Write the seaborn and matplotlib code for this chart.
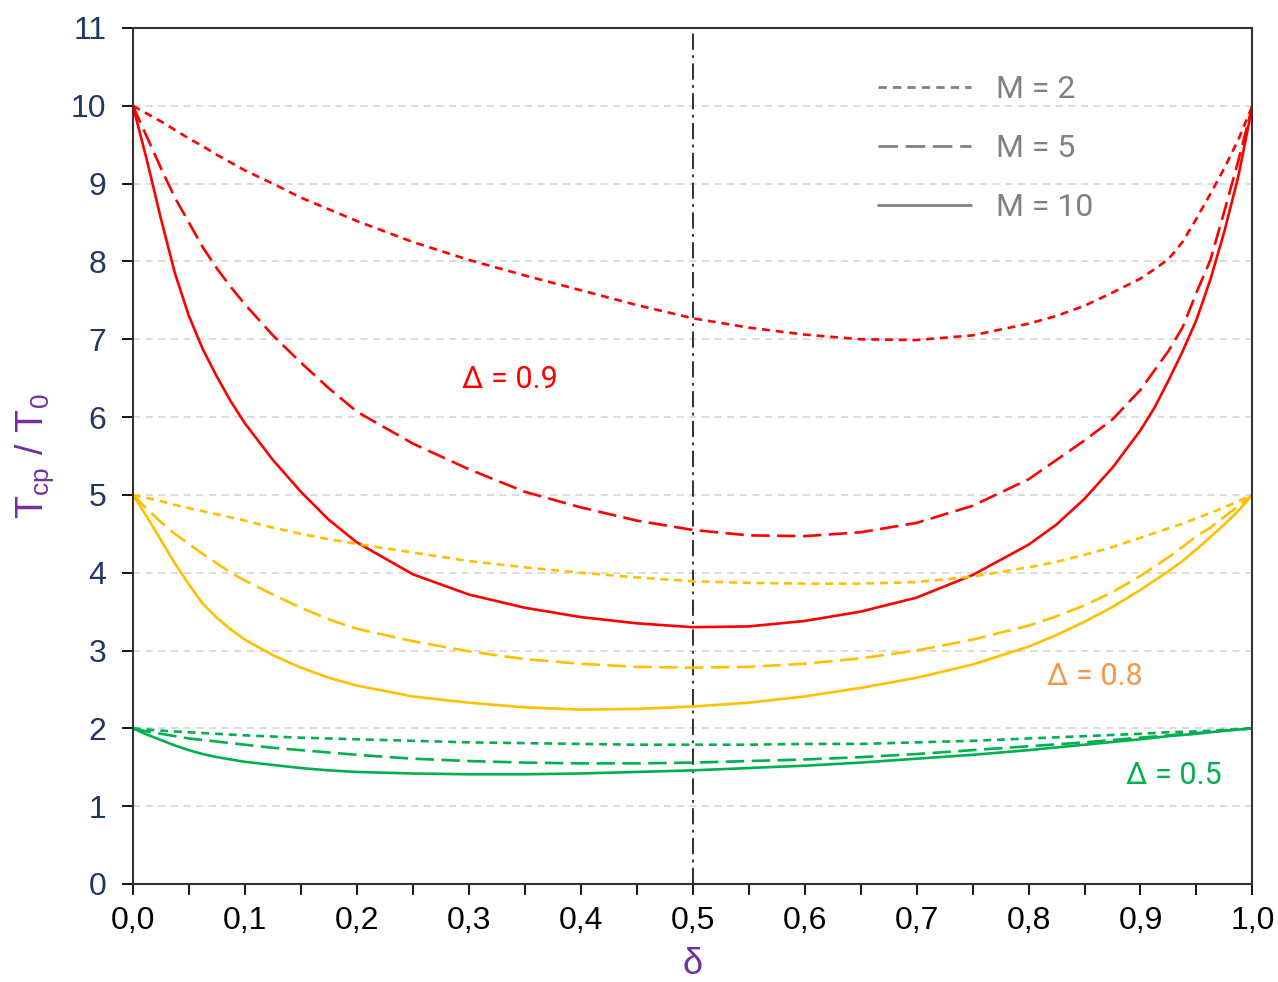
import matplotlib
matplotlib.use("Agg")
import matplotlib.pyplot as plt
from matplotlib.lines import Line2D
from matplotlib.ticker import MultipleLocator
import pandas as pd
import seaborn as sns

# delta positions along the x axis (denser near the ends where the curves are steep)
delta = [0, 0.0125, 0.025, 0.0375, 0.05, 0.0625, 0.075, 0.0875, 0.1, 0.125, 0.15, 0.175,
         0.2, 0.25, 0.3, 0.35, 0.4, 0.45, 0.5, 0.55, 0.6, 0.65, 0.7, 0.75, 0.8, 0.825,
         0.85, 0.875, 0.9, 0.9125, 0.925, 0.9375, 0.95, 0.9625, 0.975, 0.9875, 1.0]

# Delta = 0.9 (red)
red_m2 = [10, 9.9, 9.8, 9.69, 9.58, 9.48, 9.37, 9.27, 9.17, 9.0, 8.82, 8.67,
          8.52, 8.25, 8.02, 7.82, 7.63, 7.44, 7.27, 7.15, 7.06, 7.0, 6.99, 7.05, 7.2, 7.3,
          7.43, 7.6, 7.78, 7.9, 8.03, 8.25, 8.55, 8.87, 9.2, 9.57, 10]
red_m5 = [10, 9.6, 9.2, 8.82, 8.5, 8.18, 7.91, 7.67, 7.45, 7.05, 6.7, 6.37,
          6.07, 5.66, 5.33, 5.04, 4.84, 4.67, 4.55, 4.48, 4.47, 4.52, 4.64, 4.86, 5.2, 5.45,
          5.7, 5.97, 6.35, 6.6, 6.85, 7.15, 7.6, 8.02, 8.65, 9.3, 10]
red_m10 = [10, 9.3, 8.55, 7.85, 7.3, 6.87, 6.52, 6.2, 5.92, 5.45, 5.04, 4.68,
           4.39, 3.98, 3.72, 3.55, 3.43, 3.35, 3.30, 3.31, 3.38, 3.50, 3.68, 3.97, 4.36, 4.62,
           4.95, 5.35, 5.83, 6.12, 6.47, 6.84, 7.25, 7.77, 8.39, 9.1, 10]

# Delta = 0.8 (yellow)
yel_m2 = [5, 4.96, 4.92, 4.87, 4.83, 4.79, 4.75, 4.71, 4.67, 4.58, 4.5, 4.43,
          4.37, 4.26, 4.15, 4.07, 4.0, 3.94, 3.89, 3.87, 3.86, 3.86, 3.88, 3.95, 4.07, 4.14,
          4.23, 4.33, 4.45, 4.51, 4.57, 4.63, 4.7, 4.77, 4.84, 4.92, 5]
yel_m5 = [5, 4.82, 4.65, 4.5, 4.37, 4.24, 4.12, 4.0, 3.9, 3.72, 3.55, 3.4,
          3.28, 3.12, 2.99, 2.89, 2.83, 2.79, 2.78, 2.79, 2.83, 2.9, 3.0, 3.14, 3.32, 3.44,
          3.58, 3.75, 3.96, 4.08, 4.2, 4.33, 4.47, 4.58, 4.72, 4.86, 5]
yel_m10 = [5, 4.72, 4.42, 4.12, 3.85, 3.6, 3.42, 3.27, 3.14, 2.94, 2.78, 2.65,
           2.55, 2.41, 2.33, 2.27, 2.24, 2.25, 2.28, 2.33, 2.41, 2.52, 2.65, 2.82, 3.05, 3.2,
           3.37, 3.56, 3.78, 3.9, 4.02, 4.15, 4.3, 4.46, 4.62, 4.8, 5]

# Delta = 0.5 (green)
grn_m2 = [2, 1.985, 1.97, 1.96, 1.95, 1.94, 1.93, 1.92, 1.91, 1.895, 1.88, 1.87,
          1.86, 1.84, 1.82, 1.81, 1.8, 1.79, 1.79, 1.79, 1.8, 1.8, 1.82, 1.84, 1.87, 1.885,
          1.9, 1.915, 1.93, 1.94, 1.95, 1.955, 1.96, 1.97, 1.98, 1.99, 2]
grn_m5 = [2, 1.96, 1.93, 1.9, 1.87, 1.85, 1.83, 1.81, 1.79, 1.75, 1.72, 1.69,
          1.66, 1.61, 1.58, 1.56, 1.55, 1.55, 1.56, 1.58, 1.6, 1.63, 1.67, 1.72, 1.77, 1.795,
          1.82, 1.85, 1.88, 1.895, 1.91, 1.925, 1.94, 1.955, 1.97, 1.985, 2]
grn_m10 = [2, 1.92, 1.85, 1.78, 1.72, 1.67, 1.63, 1.6, 1.57, 1.53, 1.49, 1.46,
           1.44, 1.42, 1.41, 1.41, 1.42, 1.44, 1.46, 1.49, 1.52, 1.56, 1.61, 1.66, 1.72, 1.755,
           1.79, 1.825, 1.86, 1.88, 1.9, 1.915, 1.93, 1.95, 1.97, 1.985, 2]

x_ticks = [0, 0.1, 0.2, 0.3, 0.4, 0.5, 0.6, 0.7, 0.8, 0.9, 1.0]
x_tick_labels = ["0,0", "0,1", "0,2", "0,3", "0,4", "0,5", "0,6", "0,7", "0,8", "0,9", "1,0"]
y_ticks = list(range(0, 12))
m_labels = ["M = 2", "M = 5", "M = 10"]

series = {
    ("0.9", "M = 2"): red_m2, ("0.9", "M = 5"): red_m5, ("0.9", "M = 10"): red_m10,
    ("0.8", "M = 2"): yel_m2, ("0.8", "M = 5"): yel_m5, ("0.8", "M = 10"): yel_m10,
    ("0.5", "M = 2"): grn_m2, ("0.5", "M = 5"): grn_m5, ("0.5", "M = 10"): grn_m10,
}
rows = []
for (D, M), vals in series.items():
    for d, t in zip(delta, vals):
        rows.append({"delta": d, "T": t, "Delta": D, "M": M})
df = pd.DataFrame(rows)

sns.set_style("white")
plt.rcParams["font.family"] = ["Liberation Sans", "DejaVu Sans"]
plt.rcParams["mathtext.fontset"] = "custom"
plt.rcParams["mathtext.rm"] = "Liberation Sans"

palette = {"0.9": "#FF0000", "0.8": "#FFC000", "0.5": "#00B050"}
dash_map = {"M = 2": (3, 2.2), "M = 5": (7, 2.8), "M = 10": ""}

fig = plt.figure(figsize=(12.78, 9.82), dpi=100)
ax = fig.add_axes([0.104, 0.0998, 0.876, 0.8717])

# grid lines
for yv in range(1, 11):
    ax.axhline(yv, color="#D9D9D9", lw=1.3, dashes=(4, 3), zorder=0)

sns.lineplot(data=df, x="delta", y="T", hue="Delta", style="M", palette=palette,
             dashes=dash_map, linewidth=1.9, legend=False, ax=ax, sort=False)

ax.axvline(0.5, color="#222222", lw=1.3, dashes=(9, 3, 1.5, 3), zorder=1)

ax.set_xlim(0, 1)
ax.set_ylim(0, 11)
ax.set_xticks(x_ticks)
ax.set_xticklabels(x_tick_labels)
ax.xaxis.set_minor_locator(MultipleLocator(0.05))
ax.set_yticks(y_ticks)

ax.tick_params(axis="x", which="both", direction="out", length=8, width=1.3,
               labelsize=23, colors="black", pad=8, top=False, bottom=True)
ax.tick_params(axis="y", direction="out", length=8, width=1.3, labelsize=23,
               labelcolor="#1F3864", color="black", left=True, right=False, pad=11)

for s in ax.spines.values():
    s.set_color("#333333")
    s.set_linewidth(1.5)

ax.set_xlabel("δ", fontsize=26, color="#7030A0")
ax.set_ylabel(r"$\mathregular{T_{cp}\ /\ T_0}$", fontsize=27, color="#7030A0")
ax.xaxis.label.set_va("center")
ax.yaxis.label.set_va("center")
ax.xaxis.set_label_coords(0.5, -0.094)
ax.yaxis.set_label_coords(-0.0875, 0.5)

ax.text(0.337, 6.48, "Δ = 0.9", color="#FF0000", fontsize=22, family="Roboto",
        ha="center", va="center")
ax.text(0.859, 2.67, "Δ = 0.8", color="#F79646", fontsize=22, family="Roboto",
        ha="center", va="center")
ax.text(0.93, 1.40, "Δ = 0.5", color="#00B050", fontsize=22, family="Roboto",
        ha="center", va="center")

handles = [Line2D([], [], color="#808080", lw=2, dashes=dash_map["M = 2"]),
           Line2D([], [], color="#808080", lw=2, dashes=dash_map["M = 5"]),
           Line2D([], [], color="#808080", lw=2)]
leg = ax.legend(handles, m_labels, loc="upper left", bbox_to_anchor=(0.64, 0.979),
                frameon=False, handlelength=2.9, handletextpad=0.78, labelspacing=0.95,
                prop={"family": "Roboto", "size": 23})
for t in leg.get_texts():
    t.set_color("#808080")

fig.savefig("out.png", dpi=100)
